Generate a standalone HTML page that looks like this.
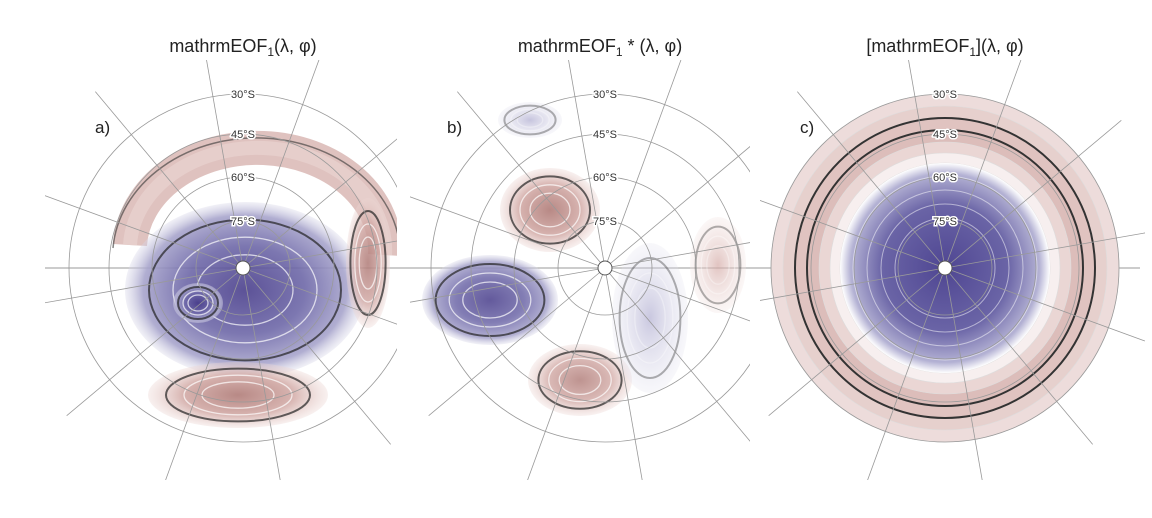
<!DOCTYPE html>
<html><head><meta charset="utf-8">
<style>
body{margin:0;background:#fff;width:1152px;height:518px;overflow:hidden;font-family:"Liberation Sans",sans-serif}
svg{display:block}
</style></head><body>
<svg width="1152" height="518" viewBox="0 0 1152 518" id="root">
<defs>
<radialGradient id="gb"><stop offset="0" stop-color="#4a3f8c"/><stop offset="0.5" stop-color="#6e68a8"/><stop offset="0.85" stop-color="#a8a5cc"/><stop offset="1" stop-color="#d8d7e8" stop-opacity="0.4"/></radialGradient>
<radialGradient id="gr"><stop offset="0" stop-color="#b07c78"/><stop offset="0.6" stop-color="#d2aaa6"/><stop offset="1" stop-color="#ecd6d3" stop-opacity="0.4"/></radialGradient>
<radialGradient id="gbl"><stop offset="0" stop-color="#a8a5cc"/><stop offset="1" stop-color="#e2e1ee" stop-opacity="0.4"/></radialGradient>
<radialGradient id="grl"><stop offset="0" stop-color="#d4aaa6"/><stop offset="1" stop-color="#f2e2e0" stop-opacity="0.4"/></radialGradient>
<radialGradient id="gcb"><stop offset="0" stop-color="#4f4692"/><stop offset="0.6" stop-color="#6a64a6"/><stop offset="0.9" stop-color="#b4b2d4"/><stop offset="1" stop-color="#fff"/></radialGradient>
<clipPath id="ca"><rect x="45" y="60" width="352" height="420"/></clipPath>
<clipPath id="cb"><rect x="410" y="60" width="340" height="420"/></clipPath>
<clipPath id="cc"><rect x="760" y="60" width="385" height="420"/></clipPath>
</defs>
<text x="243" y="52" text-anchor="middle" font-size="18" fill="#222">mathrmEOF<tspan font-size="12" dy="4">1</tspan><tspan dy="-4">(λ, φ)</tspan></text>
<text x="600" y="52" text-anchor="middle" font-size="18" fill="#222">mathrmEOF<tspan font-size="12" dy="4">1</tspan><tspan dy="-4"> * (λ, φ)</tspan></text>
<text x="945" y="52" text-anchor="middle" font-size="18" fill="#222">[mathrmEOF<tspan font-size="12" dy="4">1</tspan><tspan dy="-4">](λ, φ)</tspan></text>
<line x1="45" y1="268" x2="1140" y2="268" stroke="#999" stroke-width="1"/>
<g id="pa" clip-path="url(#ca)">
<path d="M 130 245 A 125 100 0 1 1 385 255" fill="none" stroke="#dcbbb8" stroke-width="34" opacity="0.9"/>
<path d="M 130 245 A 125 100 0 1 1 385 255" fill="none" stroke="#e7cfcc" stroke-width="14" opacity="0.9"/>
<path d="M 113 248 A 142 117 0 1 1 400 265" fill="none" stroke="#333" stroke-width="1.5" opacity="0.6"/>
</g>
<g id="pb" clip-path="url(#cb)"></g>
<g id="pc" clip-path="url(#cc)"></g>
<text x="95" y="133" font-size="17" fill="#222">a)</text>
<text x="447" y="133" font-size="17" fill="#222">b)</text>
<text x="800" y="133" font-size="17" fill="#222">c)</text>
</svg>
<script>
var NS="http://www.w3.org/2000/svg";
var latCircles=[30,45,60,75];
var latRadii=[174,134,91,47];
// blobs: [cx offset, cy offset, rx, ry, sign(+red/-blue), strength]
var blobsA=[[2,22,120,88,-1,1],[-45,35,25,20,-1,1.3],[-5,127,90,33,1,1],[125,-5,22,65,1,0.9]];
var blobsB=[[-55,-58,50,42,1,1],[-115,32,68,45,-1,0.9],[-25,112,52,36,1,0.8],[45,50,38,75,-1,0.3],[113,-3,28,48,1,0.5],[-75,-148,32,18,-1,0.4]];
var ringVals=[0.15,0.25,0.35,0.4,0.2,0.0,-0.15,-0.45];
var ringRadii=[174,162,150,138,126,115,105,70];
function el(t,a,p){var e=document.createElementNS(NS,t);for(var k in a)e.setAttribute(k,a[k]);p.appendChild(e);return e;}
function grid(g,cx,cy){
 for(var i=0;i<latCircles.length;i++){
  var c=el('circle',{cx:cx,cy:cy,r:latRadii[i],fill:'none',stroke:'#999','stroke-width':0.8},g);
  
  
 }
 for(var a=0;a<360;a+=30){
  var r=a*Math.PI/180+0.35;
  var l=el('line',{x1:cx,y1:cy,x2:cx+230*Math.cos(r),y2:cy+230*Math.sin(r),stroke:'#999','stroke-width':0.8},g);
  
  
 }
 for(var i=0;i<latCircles.length;i++){
  var t=el('text',{x:cx,y:cy-latRadii[i]+4,'text-anchor':'middle','font-size':11,fill:'#333',stroke:'#fff','stroke-width':3,'paint-order':'stroke'},g);
  t.textContent=latCircles[i]+'°S';
  
  
 }
 var p=el('circle',{cx:cx,cy:cy,r:7,fill:'#fff',stroke:'#555'},g);
 
 
}
function blobs(g,cx,cy,arr){
 arr.forEach(function(b){
  var fill=b[4]>0?(b[5]>0.6?'url(#gr)':'url(#grl)'):(b[5]>0.6?'url(#gb)':'url(#gbl)');
  var e=el('ellipse',{cx:cx+b[0],cy:cy+b[1],rx:b[2],ry:b[3],fill:fill,opacity:Math.min(1,0.5+b[5]*0.4)},g);
  
  
  for(var k=1;k<=3;k++){
   var s=1-k*0.2;
   var c=el('ellipse',{cx:cx+b[0],cy:cy+b[1],rx:b[2]*s,ry:b[3]*s,fill:'none',stroke:k==1?'#222':'#fff','stroke-width':k==1?2:1.3,opacity:b[5]>0.5?0.7:0.35},g);
   
   
  }
 });
}
var pa=document.getElementById('pa'),pb=document.getElementById('pb'),pc=document.getElementById('pc');
blobs(pa,243,268,blobsA);grid(pa,243,268);
blobs(pb,605,268,blobsB);grid(pb,605,268);
for(var i=0;i<ringVals.length;i++){
 var v=ringVals[i];
 var col=v<0?'rgba(255,255,255,1)':'rgba(200,150,145,'+(0.15+v*1.2)+')';
 el('circle',{cx:945,cy:268,r:ringRadii[i],fill:'#fff'},pc);
 var r2=el('circle',{cx:945,cy:268,r:ringRadii[i],fill:col,stroke:Math.abs(v)>=0.3?'#333':'#ddd','stroke-width':Math.abs(v)>=0.3?2:0.6},pc);
 
 
}
var cb=el('circle',{cx:945,cy:268,r:105,fill:'url(#gcb)'},pc);


for(var k=0;k<4;k++){
 var cl=el('circle',{cx:945,cy:268,r:92-k*14,fill:'none',stroke:'#fff','stroke-width':1,opacity:0.5},pc);
 
 
}
grid(pc,945,268);
</script>
</body></html>
